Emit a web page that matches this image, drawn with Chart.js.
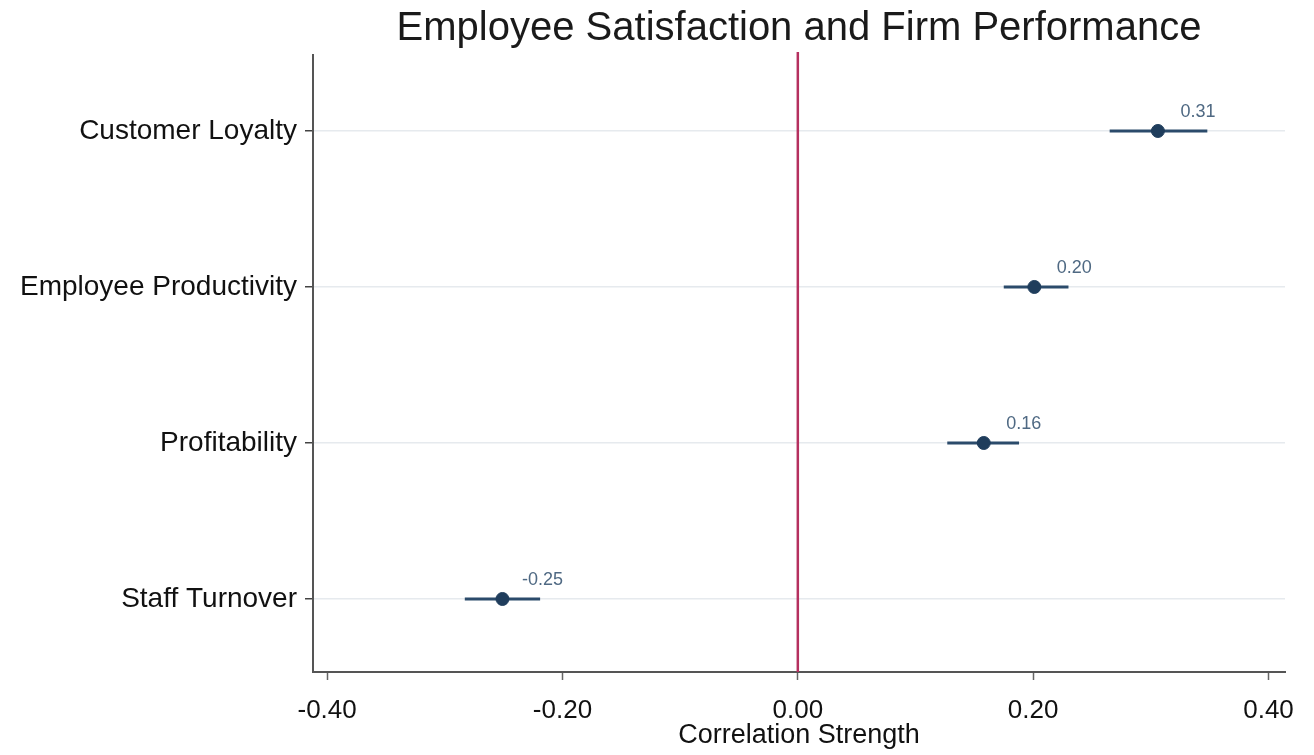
<!DOCTYPE html>
<html>
<head>
<meta charset="utf-8">
<script src="https://cdn.jsdelivr.net/npm/chart.js@4"></script>
<style>
  body { margin: 0; background: #fff; }
  canvas { display: block; }
</style>
</head>
<body>
<canvas id="myChart" width="1314" height="755"></canvas>
<script>
// outcomes, top to bottom
const categories = ['Customer Loyalty', 'Employee Productivity', 'Profitability', 'Staff Turnover'];
const estimates = [0.306, 0.201, 0.158, -0.251];
const lowerCI = [0.265, 0.175, 0.127, -0.283];
const upperCI = [0.348, 0.230, 0.188, -0.219];
const xTicks = [-0.40, -0.20, 0.00, 0.20, 0.40];

const chartTitle = 'Employee Satisfaction and Firm Performance';
const xTitle = 'Correlation Strength';

const FONT = '"Liberation Sans", Arial, sans-serif';

// y position: top category gets the highest index
const yPos = categories.map((c, i) => categories.length - 1 - i);

const points = estimates.map((v, i) => ({ x: v, y: yPos[i] }));

const forestPlugin = {
    id: 'forest',
    beforeDatasetsDraw(chart) {
        const ctx = chart.ctx;
        const xs = chart.scales.x;
        const ys = chart.scales.y;
        const area = chart.chartArea;
        ctx.save();
        // zero reference line
        ctx.strokeStyle = '#b5305f';
        ctx.lineWidth = 2.5;
        ctx.beginPath();
        ctx.moveTo(xs.getPixelForValue(0), area.top - 3);
        ctx.lineTo(xs.getPixelForValue(0), area.bottom);
        ctx.stroke();
        // confidence intervals
        ctx.strokeStyle = '#2b4b6b';
        ctx.lineWidth = 3;
        for (let i = 0; i < categories.length; i++) {
            const y = ys.getPixelForValue(yPos[i]);
            ctx.beginPath();
            ctx.moveTo(xs.getPixelForValue(lowerCI[i]), y);
            ctx.lineTo(xs.getPixelForValue(upperCI[i]), y);
            ctx.stroke();
        }
        ctx.restore();
    },
    afterDraw(chart) {
        const ctx = chart.ctx;
        const xs = chart.scales.x;
        const ys = chart.scales.y;
        const area = chart.chartArea;
        ctx.save();
        // value labels
        ctx.fillStyle = '#4f6983';
        ctx.font = '18px ' + FONT;
        ctx.textAlign = 'center';
        ctx.textBaseline = 'middle';
        for (let i = 0; i < categories.length; i++) {
            const x = xs.getPixelForValue(estimates[i]);
            const y = ys.getPixelForValue(yPos[i]);
            ctx.fillText(estimates[i].toFixed(2), x + 40, y - 19);
        }
        // title centred over the plot area
        ctx.fillStyle = '#1a1a1a';
        ctx.font = '40px ' + FONT;
        ctx.fillText(chartTitle, (area.left + area.right) / 2, 29);
        ctx.restore();
    }
};

const ctx = document.getElementById('myChart').getContext('2d');
new Chart(ctx, {
    type: 'scatter',
    data: {
        datasets: [{
            data: points,
            backgroundColor: '#1f3d5c',
            borderColor: '#1f3d5c',
            pointRadius: 6.5,
            pointHoverRadius: 6.5
        }]
    },
    options: {
        responsive: false,
        animation: false,
        devicePixelRatio: 1,
        layout: { padding: { top: 55, right: 29, bottom: 0, left: 0 } },
        plugins: {
            legend: { display: false },
            tooltip: { enabled: false },
            title: { display: false }
        },
        scales: {
            x: {
                type: 'linear',
                min: -0.412,
                max: 0.414,
                afterBuildTicks: s => { s.ticks = xTicks.map(v => ({ value: v })); },
                afterFit: s => { s.height = 83; },
                grid: {
                    drawOnChartArea: false,
                    drawTicks: true,
                    tickLength: 8,
                    tickColor: '#666',
                    tickWidth: 1.5
                },
                border: { display: true, color: '#555', width: 2 },
                ticks: {
                    padding: 15,
                    color: '#111',
                    font: { family: FONT, size: 26 },
                    callback: v => v.toFixed(2)
                },
                title: {
                    display: true,
                    text: xTitle,
                    color: '#111',
                    padding: { top: 0, bottom: 3 },
                    font: { family: FONT, size: 27 }
                }
            },
            y: {
                type: 'linear',
                min: -0.468,
                max: 3.487,
                afterBuildTicks: s => { s.ticks = yPos.map(v => ({ value: v })); },
                afterFit: s => { s.width = 313; },
                grid: {
                    color: '#e6eaee',
                    lineWidth: 1.5,
                    drawTicks: true,
                    tickLength: 8,
                    tickColor: '#444',
                    tickWidth: 1.5
                },
                border: { display: true, color: '#555', width: 2 },
                ticks: {
                    padding: 8,
                    color: '#111',
                    font: { family: FONT, size: 28 },
                    callback: v => categories[categories.length - 1 - v]
                }
            }
        }
    },
    plugins: [forestPlugin]
});
</script>
</body>
</html>
